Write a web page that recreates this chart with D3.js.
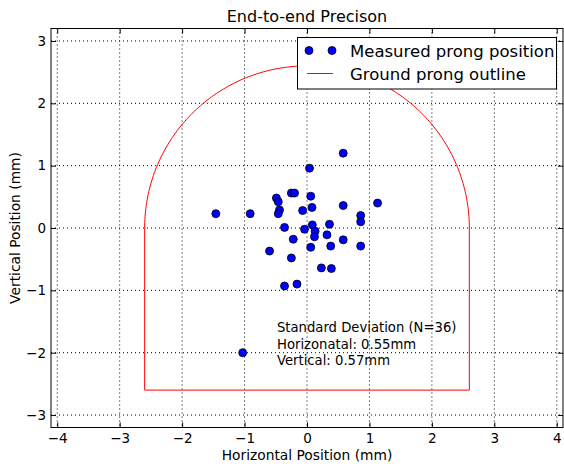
<!DOCTYPE html>
<html>
<head>
<meta charset="utf-8">
<script src="https://cdn.jsdelivr.net/npm/d3@7"></script>
<style>
  body { margin: 0; background: #fff; }
  svg { font-family: "DejaVu Sans", sans-serif; }
</style>
</head>
<body>
<div id="chart"></div>
<script>
// measured prong positions (mm)
var xPos = [0.58, 0.04, -0.25, -0.20, -0.49, -0.46, 0.06, -1.46, -0.91, -0.44, -0.46, -0.07,
            0.08, 0.58, 1.13, 0.86, 0.86, -0.36, -0.04, 0.085, 0.36, 0.13, 0.12, 0.32,
            -0.22, 0.58, 0.86, 0.38, 0.06, -0.60, -0.25, 0.23, 0.39, -0.36, -0.16, -1.03];
var yPos = [1.20, 0.96, 0.56, 0.56, 0.48, 0.42, 0.51, 0.23, 0.23, 0.29, 0.23, 0.28,
            0.33, 0.36, 0.40, 0.20, 0.10, 0.01, -0.02, 0.05, 0.06, -0.05, -0.14, -0.11,
            -0.18, -0.19, -0.29, -0.29, -0.31, -0.37, -0.48, -0.64, -0.65, -0.93, -0.90, -2.00];
var prongRadius = 2.6;
var prongBottom = -2.6;
var xTicks = [-4, -3, -2, -1, 0, 1, 2, 3, 4];
var yTicks = [-3, -2, -1, 0, 1, 2, 3];
var statLines = ["Standard Deviation (N=36)", "Horizonatal: 0.55mm", "Vertical: 0.57mm"];

var svgWidth = 564;
var svgHeight = 464;
var margin = { top: 28.5, right: 1, bottom: 36.5, left: 51 };
var width = svgWidth - margin.left - margin.right;
var height = svgHeight - margin.top - margin.bottom;

var svg = d3.select("#chart").append("svg")
  .attr("width", svgWidth)
  .attr("height", svgHeight);

var chartGroup = svg.append("g")
  .attr("transform", `translate(${margin.left}, ${margin.top})`);

var xScale = d3.scaleLinear().domain([-4.1, 4.1]).range([0, width]);
var yScale = d3.scaleLinear().domain([-3.2, 3.2]).range([height, 0]);

var fmt = d => d < 0 ? "\u2212" + Math.abs(d) : String(d);

// grid
chartGroup.selectAll(".vgrid").data(xTicks).enter().append("line")
  .attr("x1", d => xScale(d)).attr("x2", d => xScale(d))
  .attr("y1", 0).attr("y2", height)
  .attr("stroke", "#000").attr("stroke-width", 1)
  .attr("stroke-dasharray", "1,3");
chartGroup.selectAll(".hgrid").data(yTicks).enter().append("line")
  .attr("x1", 0).attr("x2", width)
  .attr("y1", d => yScale(d)).attr("y2", d => yScale(d))
  .attr("stroke", "#000").attr("stroke-width", 1)
  .attr("stroke-dasharray", "1,3");

// prong outline
var outline = d3.path();
outline.moveTo(xScale(-prongRadius), yScale(prongBottom));
outline.lineTo(xScale(-prongRadius), yScale(0));
var arcPts = d3.range(0, 181).map(a => {
  var t = Math.PI - a * Math.PI / 180;
  return [prongRadius * Math.cos(t), prongRadius * Math.sin(t)];
});
arcPts.forEach(p => outline.lineTo(xScale(p[0]), yScale(p[1])));
outline.lineTo(xScale(prongRadius), yScale(prongBottom));
outline.closePath();
chartGroup.append("path")
  .attr("d", outline.toString())
  .attr("fill", "none")
  .attr("stroke", "red")
  .attr("stroke-width", 1);

// points
chartGroup.selectAll("circle.pt")
  .data(xPos.map((x, i) => [x, yPos[i]]))
  .enter().append("circle")
  .attr("class", "pt")
  .attr("cx", d => xScale(d[0]))
  .attr("cy", d => yScale(d[1]))
  .attr("r", 4)
  .attr("fill", "#0000ff")
  .attr("stroke", "#000")
  .attr("stroke-width", 0.8);

// axes with inward ticks on all sides
chartGroup.append("g").attr("transform", `translate(0, ${height})`)
  .call(d3.axisBottom(xScale).tickValues(xTicks).tickSizeInner(-5).tickSizeOuter(0).tickPadding(6).tickFormat(fmt));
chartGroup.append("g")
  .call(d3.axisTop(xScale).tickValues(xTicks).tickSizeInner(-5).tickSizeOuter(0).tickFormat(""));
chartGroup.append("g")
  .call(d3.axisLeft(yScale).tickValues(yTicks).tickSizeInner(-5).tickSizeOuter(0).tickPadding(5).tickFormat(fmt));
chartGroup.append("g").attr("transform", `translate(${width}, 0)`)
  .call(d3.axisRight(yScale).tickValues(yTicks).tickSizeInner(-5).tickSizeOuter(0).tickFormat(""));
chartGroup.selectAll(".tick text")
  .attr("font-size", "13.5px")
  .attr("font-family", "DejaVu Sans, sans-serif")
  .attr("fill", "#000");
chartGroup.selectAll(".domain").remove();

chartGroup.append("rect")
  .attr("width", width).attr("height", height)
  .attr("fill", "none").attr("stroke", "#000").attr("stroke-width", 1);

// stats text
chartGroup.append("g").selectAll("text").data(statLines).enter().append("text")
  .attr("x", 277 - margin.left)
  .attr("y", (d, i) => 332 - margin.top + i * 16.7)
  .attr("font-size", "13.2px")
  .text(d => d);

// legend
var legend = svg.append("g");
legend.append("rect")
  .attr("x", 297.5).attr("y", 37.5).attr("width", 259).attr("height", 51.5)
  .attr("fill", "#fff").attr("stroke", "#000").attr("stroke-width", 1);
[309, 332].forEach(cx => legend.append("circle")
  .attr("cx", cx).attr("cy", 50.5).attr("r", 4)
  .attr("fill", "#0000ff").attr("stroke", "#000").attr("stroke-width", 0.8));
legend.append("line")
  .attr("x1", 307).attr("x2", 333).attr("y1", 73.5).attr("y2", 73.5)
  .attr("stroke", "red").attr("stroke-width", 1);
legend.append("text").attr("x", 350).attr("y", 56.5).attr("font-size", "16.5px").text("Measured prong position");
legend.append("text").attr("x", 350).attr("y", 79.5).attr("font-size", "16.5px").text("Ground prong outline");

// titles
svg.append("text")
  .attr("x", margin.left + width / 2).attr("y", 22)
  .attr("text-anchor", "middle").attr("font-size", "16px")
  .text("End-to-end Precison");
svg.append("text")
  .attr("x", margin.left + width / 2).attr("y", 459.5)
  .attr("text-anchor", "middle").attr("font-size", "13.8px")
  .text("Horizontal Position (mm)");
svg.append("text")
  .attr("transform", `translate(20, ${margin.top + height / 2}) rotate(-90)`)
  .attr("text-anchor", "middle").attr("font-size", "13.8px")
  .text("Vertical Position (mm)");
</script>
</body>
</html>
